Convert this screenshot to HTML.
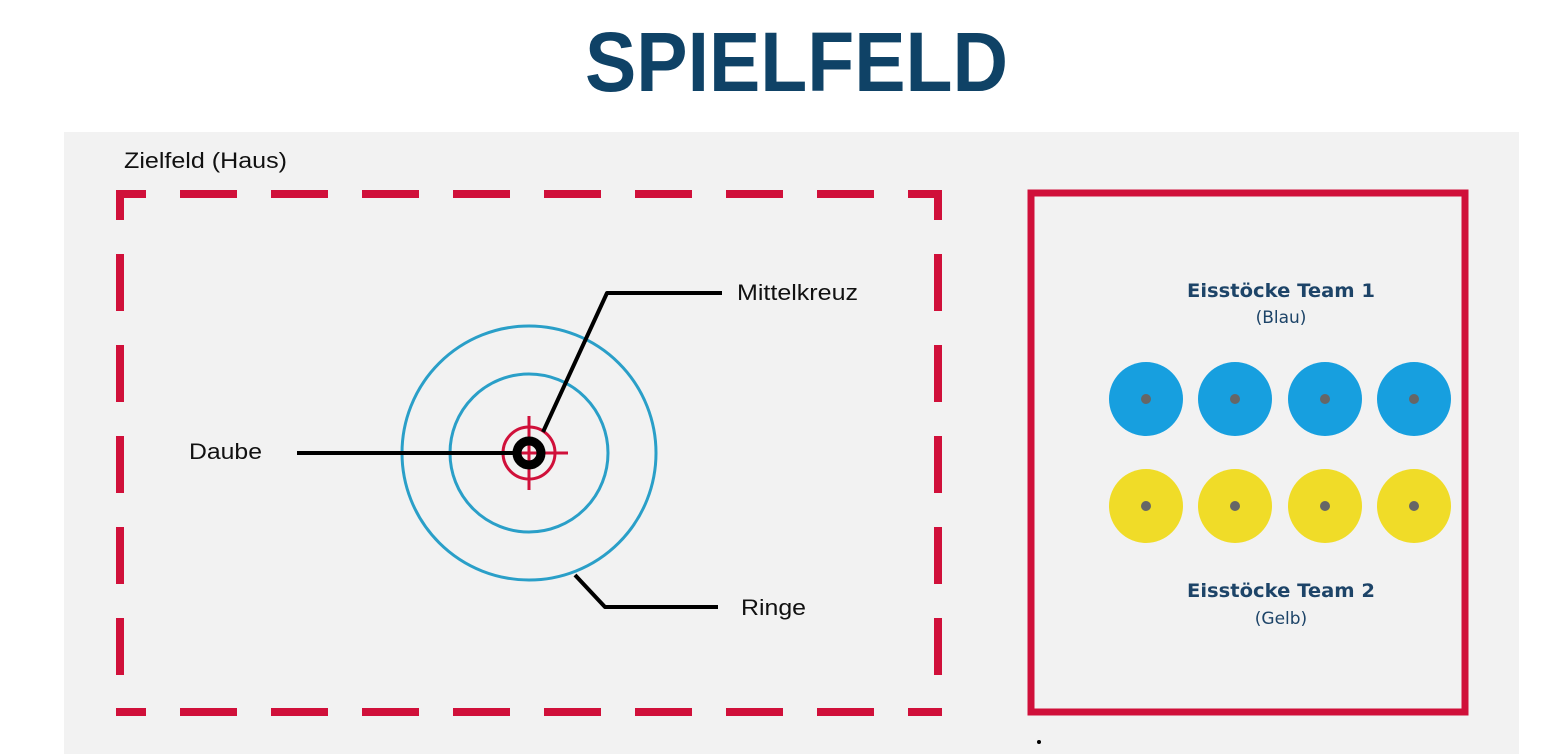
<!DOCTYPE html>
<html><head><meta charset="utf-8"><style>
html,body{margin:0;padding:0;background:#fff;}
svg{display:block}
</style></head><body>
<svg width="1556" height="754" viewBox="0 0 1556 754" xmlns="http://www.w3.org/2000/svg">
<rect x="0" y="0" width="1556" height="754" fill="#fff"/>
<text x="585" y="91" font-family="Liberation Sans, sans-serif" font-weight="bold" font-size="84" fill="#0f4266" textLength="423" lengthAdjust="spacingAndGlyphs">SPIELFELD</text>
<rect x="64" y="132" width="1455" height="622" fill="#f2f2f2"/>
<text x="124" y="168" font-family="Liberation Sans, sans-serif" font-size="22" fill="#111" textLength="163" lengthAdjust="spacingAndGlyphs">Zielfeld (Haus)</text>
<g stroke="#d0103a" stroke-width="8" fill="none" stroke-dasharray="57 34" stroke-dashoffset="27">
<line x1="116" y1="194" x2="942" y2="194"/>
<line x1="116" y1="712" x2="942" y2="712"/>
<line x1="120" y1="190" x2="120" y2="716"/>
<line x1="938" y1="190" x2="938" y2="716"/>
</g>
<rect x="1031" y="193" width="434" height="519" fill="none" stroke="#d0103a" stroke-width="7"/>
<g fill="none" stroke="#2a9fc8" stroke-width="3">
<circle cx="529" cy="453" r="127"/>
<circle cx="529" cy="453" r="79"/>
</g>
<g stroke="#d0103a" stroke-width="3" fill="none">
<circle cx="529" cy="453" r="26"/>
<line x1="529" y1="416" x2="529" y2="490"/>
<line x1="492" y1="453" x2="568" y2="453"/>
</g>
<circle cx="529" cy="453" r="12" fill="none" stroke="#000" stroke-width="9"/>
<g stroke="#000" stroke-width="4" fill="none" stroke-linejoin="round">
<line x1="297" y1="453" x2="520" y2="453"/>
<polyline points="543,432 607,293 722,293"/>
<polyline points="575,575 605,607 718,607"/>
</g>
<g font-family="Liberation Sans, sans-serif" font-size="22" fill="#111">
<text x="189" y="459" textLength="73" lengthAdjust="spacingAndGlyphs">Daube</text>
<text x="737" y="300" textLength="121" lengthAdjust="spacingAndGlyphs">Mittelkreuz</text>
<text x="741" y="615" textLength="65" lengthAdjust="spacingAndGlyphs">Ringe</text>
</g>
<g font-family="DejaVu Sans, sans-serif" fill="#1d4468">
<text x="1187" y="297" font-size="19" font-weight="bold" textLength="188" lengthAdjust="spacingAndGlyphs">Eisstöcke Team 1</text>
<text x="1281" y="323" font-size="17" text-anchor="middle">(Blau)</text>
<text x="1187" y="597" font-size="19" font-weight="bold" textLength="188" lengthAdjust="spacingAndGlyphs">Eisstöcke Team 2</text>
<text x="1281" y="624" font-size="17" text-anchor="middle">(Gelb)</text>
</g>
<g fill="#179fdf">
<circle cx="1146" cy="399" r="37"/><circle cx="1235" cy="399" r="37"/><circle cx="1325" cy="399" r="37"/><circle cx="1414" cy="399" r="37"/>
</g>
<g fill="#f0dc28">
<circle cx="1146" cy="506" r="37"/><circle cx="1235" cy="506" r="37"/><circle cx="1325" cy="506" r="37"/><circle cx="1414" cy="506" r="37"/>
</g>
<g fill="#666">
<circle cx="1146" cy="399" r="5"/><circle cx="1235" cy="399" r="5"/><circle cx="1325" cy="399" r="5"/><circle cx="1414" cy="399" r="5"/>
<circle cx="1146" cy="506" r="5"/><circle cx="1235" cy="506" r="5"/><circle cx="1325" cy="506" r="5"/><circle cx="1414" cy="506" r="5"/>
</g>
<circle cx="1039" cy="742" r="2" fill="#000"/>
</svg>
</body></html>
